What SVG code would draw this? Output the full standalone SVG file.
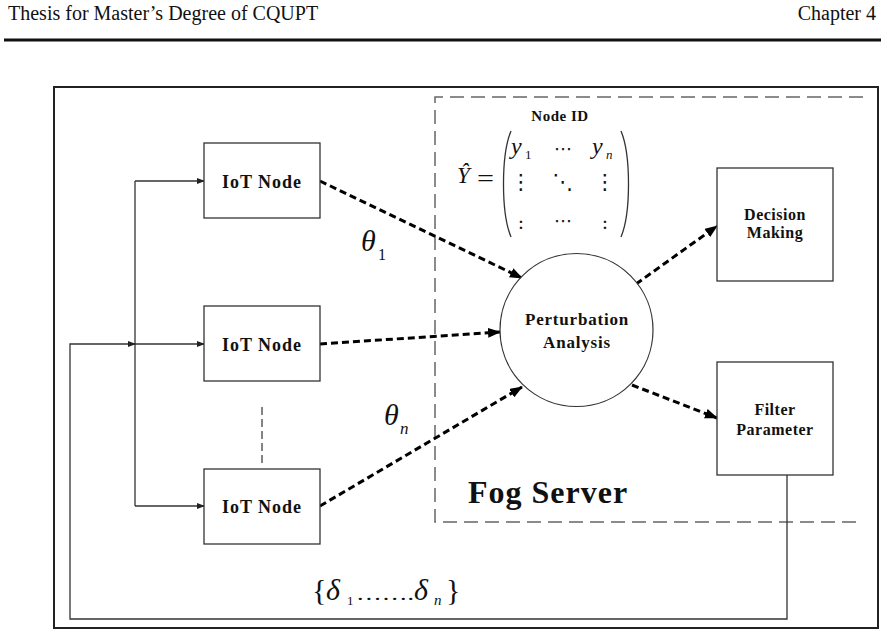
<svg xmlns="http://www.w3.org/2000/svg" width="886" height="636" viewBox="0 0 886 636">
<defs>
<marker id="ah" markerUnits="userSpaceOnUse" markerWidth="13" markerHeight="10" refX="12" refY="5" orient="auto"><path d="M0,0 L13,5 L0,10 z" fill="#000"/></marker>
<marker id="as" markerUnits="userSpaceOnUse" markerWidth="8" markerHeight="6" refX="7" refY="3" orient="auto"><path d="M0,0 L8,3 L0,6 z" fill="#222"/></marker>
<style>
.hdr{font-family:"Liberation Serif","Times New Roman",serif;font-size:20px;fill:#111}
.box{fill:#fff;stroke:#333;stroke-width:1.3}
.lbl{font-family:"Liberation Serif","Times New Roman",serif;font-weight:bold;fill:#111;text-anchor:middle}
.math{font-family:"Liberation Serif","Times New Roman",serif;font-style:italic;fill:#111}
.rm{font-family:"Liberation Serif","Times New Roman",serif;fill:#111}
.sym{font-family:"DejaVu Serif","DejaVu Sans",serif;fill:#111;text-anchor:middle}
.dash{fill:none;stroke:#000;stroke-width:3;stroke-dasharray:7 4;marker-end:url(#ah)}
.thin{fill:none;stroke:#333;stroke-width:1.3}
.fog{fill:none;stroke:#666;stroke-width:1.5;stroke-dasharray:14 7}
</style>
</defs>
<rect width="886" height="636" fill="#fff"/>
<text class="hdr" x="8" y="20">Thesis for Master’s Degree of CQUPT</text>
<text class="hdr" x="876" y="20" text-anchor="end">Chapter 4</text>
<line x1="4" y1="40" x2="881" y2="40" stroke="#111" stroke-width="3"/>
<rect x="54" y="87" width="824" height="541" fill="none" stroke="#222" stroke-width="2"/>
<g id="fog-server">
<path class="fog" d="M863,97 H435 V522 H863"/>
<text x="468" y="503" font-family="Liberation Serif,'Times New Roman',serif" font-weight="bold" font-size="32" letter-spacing="1" fill="#111">Fog Server</text>
</g>
<g id="connectors">
<line class="thin" x1="135" y1="181" x2="135" y2="506"/>
<line class="thin" x1="135" y1="181" x2="204" y2="181" marker-end="url(#as)"/>
<line class="thin" x1="135" y1="344" x2="204" y2="344" marker-end="url(#as)"/>
<line class="thin" x1="135" y1="506" x2="204" y2="506" marker-end="url(#as)"/>
<path class="thin" d="M787,475 V619 H70 V344 H135" marker-end="url(#as)"/>
<line x1="262" y1="407" x2="262" y2="465" stroke="#333" stroke-width="1.2" stroke-dasharray="8 4"/>
<line class="dash" x1="320" y1="181" x2="522" y2="278"/>
<line class="dash" x1="320" y1="344" x2="500" y2="332"/>
<line class="dash" x1="320" y1="506" x2="522" y2="387"/>
<line class="dash" x1="636" y1="284" x2="717" y2="226"/>
<line class="dash" x1="632" y1="385" x2="717" y2="418"/>
</g>
<g id="iot1"><rect class="box" x="204" y="143" width="116" height="75"/><text class="lbl" x="262" y="188" font-size="18" letter-spacing="1">IoT Node</text></g>
<g id="iot2"><rect class="box" x="204" y="306" width="116" height="75"/><text class="lbl" x="262" y="351" font-size="18" letter-spacing="1">IoT Node</text></g>
<g id="iot3"><rect class="box" x="204" y="469" width="116" height="75"/><text class="lbl" x="262" y="513" font-size="18" letter-spacing="1">IoT Node</text></g>
<g id="perturbation"><circle cx="576.5" cy="330" r="76.5" fill="#fff" stroke="#333" stroke-width="1.2"/><text class="lbl" x="577" y="325" font-size="17" letter-spacing="0.8">Perturbation</text><text class="lbl" x="577" y="348" font-size="17" letter-spacing="0.8">Analysis</text></g>
<g id="decision"><rect class="box" x="717" y="168" width="116" height="113"/><text class="lbl" x="775" y="220" font-size="16" letter-spacing="0.5">Decision</text><text class="lbl" x="775" y="238" font-size="16" letter-spacing="0.5">Making</text></g>
<g id="filter"><rect class="box" x="717" y="362" width="116" height="113"/><text class="lbl" x="775" y="415" font-size="16" letter-spacing="0.5">Filter</text><text class="lbl" x="775" y="435" font-size="16" letter-spacing="0.5">Parameter</text></g>
<g id="matrix">
<text class="lbl" x="560" y="121" font-size="15" letter-spacing="0.5">Node ID</text>
<text class="math" x="457" y="183" font-size="23">Ŷ</text>
<text class="rm" x="477" y="186" font-size="24" textLength="17" lengthAdjust="spacingAndGlyphs">=</text>
<path class="thin" d="M511,131 C501,155 501,213 511,237"/>
<path class="thin" d="M621,131 C631,155 631,213 621,237"/>
<text class="math" x="511" y="154" font-size="24">y</text><text class="rm" x="525" y="159" font-size="13">1</text>
<text class="sym" x="563" y="155" font-size="18">⋯</text>
<text class="math" x="592" y="154" font-size="24">y</text><text class="math" x="606" y="159" font-size="13">n</text>
<text class="sym" x="521" y="189" font-size="21">⋮</text>
<text class="sym" x="563" y="189" font-size="21">⋱</text>
<text class="sym" x="605" y="189" font-size="21">⋮</text>
<text class="sym" x="521" y="229" font-size="19">:</text>
<text class="sym" x="563" y="227" font-size="18">⋯</text>
<text class="sym" x="605" y="229" font-size="19">:</text>
</g>
<g id="labels">
<text class="math" x="361" y="251" font-size="30">θ</text><text class="rm" x="378" y="260" font-size="16">1</text>
<text class="math" x="384" y="425" font-size="30">θ</text><text class="math" x="400" y="434" font-size="17">n</text>
<text class="rm" x="312" y="600" font-size="30">{</text>
<text class="math" x="326" y="600" font-size="30">δ</text>
<text class="rm" x="347" y="605" font-size="13">1</text>
<text class="rm" x="356" y="600" font-size="19" textLength="58" lengthAdjust="spacingAndGlyphs">…….</text>
<text class="math" x="414" y="600" font-size="30">δ</text>
<text class="math" x="434" y="605" font-size="15">n</text>
<text class="rm" x="446" y="600" font-size="30">}</text>
</g>
</svg>
